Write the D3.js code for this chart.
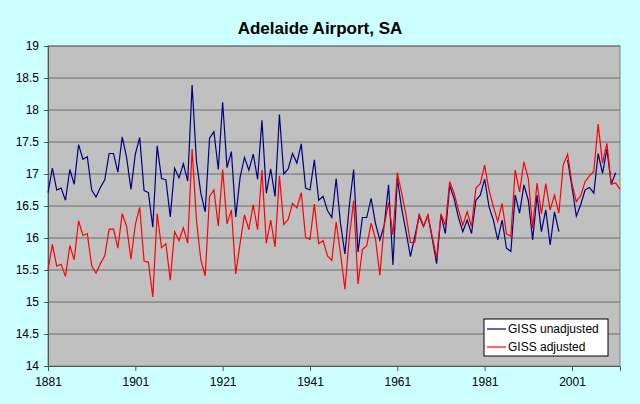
<!DOCTYPE html>
<html>
<head>
<meta charset="utf-8">
<script src="https://cdn.jsdelivr.net/npm/d3@7"></script>
<style>
body { margin:0; background:#CCFFFF; }
svg { display:block; font-family:Arial, "Liberation Sans", sans-serif; }
</style>
</head>
<body>
<div id="chart"></div>
<script>
var years = d3.range(1881, 2013)

var unadjusted = [
 16.71,17.09,16.75,16.78,16.59,17.07,16.84,17.46,17.23,17.27,
 16.75,16.64,16.79,16.91,17.32,17.32,17.03,17.58,17.26,16.76,
 17.31,17.57,16.74,16.71,16.17,17.44,16.93,16.91,16.33,17.09,
 16.94,17.16,16.89,18.39,17.20,16.70,16.41,17.56,17.66,17.07,
 18.12,17.10,17.35,16.33,16.95,17.26,17.06,17.31,16.92,17.84,
 16.70,17.08,16.65,17.93,17.00,17.08,17.32,17.17,17.47,16.78,
 16.75,17.22,16.59,16.65,16.43,16.32,16.93,16.22,15.75,16.50,
 17.07,15.78,16.32,16.32,16.62,16.23,15.97,16.20,16.83,15.58,
 16.93,16.46,16.10,15.71,16.02,16.34,16.18,16.35,15.99,15.60,
 16.36,16.07,16.82,16.62,16.32,16.10,16.28,16.07,16.59,16.67,
 16.92,16.49,16.28,15.97,16.28,15.84,15.79,16.67,16.39,16.83,
 16.59,15.97,16.67,16.10,16.44,15.89,16.41,16.10,null,17.22,
 16.80,16.34,16.52,16.75,16.79,16.70,17.32,17.01,17.39,16.84,
 17.02,null
]

var adjusted = [
 15.50,15.90,15.56,15.59,15.40,15.88,15.66,16.27,16.04,16.07,
 15.57,15.45,15.60,15.72,16.14,16.14,15.84,16.38,16.18,15.67,
 16.21,16.48,15.64,15.62,15.08,16.38,15.85,15.91,15.34,16.10,
 15.96,16.16,15.92,17.39,16.28,15.66,15.41,16.65,16.75,16.19,
 17.07,16.22,16.44,15.44,15.92,16.36,16.13,16.52,16.13,17.06,
 15.92,16.28,15.86,16.97,16.21,16.29,16.54,16.47,16.71,16.01,
 15.98,16.53,15.91,15.96,15.72,15.65,16.25,15.75,15.20,16.01,
 16.58,15.28,15.82,15.88,16.23,15.99,15.42,16.20,16.55,16.05,
 17.02,16.70,16.36,15.93,15.93,16.38,16.18,16.36,16.02,15.68,
 16.38,16.20,16.88,16.70,16.44,16.20,16.41,16.18,16.78,16.85,
 17.14,16.75,16.49,16.26,16.54,16.06,16.03,17.06,16.72,17.19,
 16.93,16.15,16.86,16.38,16.85,16.44,16.67,16.39,17.14,17.31,
 16.85,16.57,16.66,16.88,16.97,17.04,17.78,17.17,17.48,16.84,
 16.86,16.76
]

var xTicks = [1881, 1901, 1921, 1941, 1961, 1981, 2001]
var yTicks = [14, 14.5, 15, 15.5, 16, 16.5, 17, 17.5, 18, 18.5, 19]
var seriesNames = ["GISS unadjusted", "GISS adjusted"]
var seriesColors = ["#000080", "#FF0000"]

var svg = d3.select("#chart")
    .append("svg")
    .attr("width", 640)
    .attr("height", 404)

var x = d3.scaleLinear()
    .domain([years[0], years[years.length-1]])
    .range([48, 620])

var y = d3.scaleLinear()
    .domain([14, 19])
    .range([366, 46])

svg.append("rect")
    .attr("x", 48)
    .attr("y", 46)
    .attr("width", 572)
    .attr("height", 320)
    .attr("fill", "#C0C0C0")
    .attr("stroke", "#808080")

svg.append("g")
    .selectAll("line")
    .data(yTicks.slice(1))
    .enter()
    .append("line")
    .attr("x1", 48)
    .attr("x2", 620)
    .attr("y1", function(d) { return y(d) })
    .attr("y2", function(d) { return y(d) })
    .attr("stroke", "#6a6a6a")

var yAxis = svg.append("g")
    .attr("transform", "translate(48,0)")
    .call(d3.axisLeft(y).tickValues(yTicks).tickSize(4).tickPadding(5)
        .tickFormat(function(d) { return String(d) }))

var xAxis = svg.append("g")
    .attr("transform", "translate(0,366)")
    .call(d3.axisBottom(x).tickValues(xTicks).tickSize(5).tickPadding(6)
        .tickFormat(function(d) { return String(d) }))

svg.selectAll(".domain, .tick line").attr("stroke", "#555555")
svg.selectAll(".tick text")
    .attr("font-size", 12)
    .attr("font-family", "Arial, 'Liberation Sans', sans-serif")
    .attr("fill", "#000")

var line = function(vals)
{
    return d3.line()
        .defined(function(d) { return d != null })
        .x(function(d, i) { return x(years[i]) })
        .y(function(d) { return y(d) })(vals)
}

svg.selectAll("path.series")
    .data([unadjusted, adjusted])
    .enter()
    .append("path")
    .attr("class", "series")
    .attr("d", function(d) { return line(d) })
    .attr("fill", "none")
    .attr("stroke", function(d, i) { return seriesColors[i] })
    .attr("stroke-width", 1.2)

svg.append("text")
    .attr("x", 320)
    .attr("y", 34)
    .attr("text-anchor", "middle")
    .attr("font-size", 17)
    .attr("font-weight", "bold")
    .text("Adelaide Airport, SA")

var legend = svg.append("g")
    .attr("transform", "translate(484,319)")

legend.append("rect")
    .attr("width", 124)
    .attr("height", 37)
    .attr("fill", "#FFFFFF")
    .attr("stroke", "#000000")

var item = legend.selectAll("g")
    .data(seriesNames)
    .enter()
    .append("g")
    .attr("transform", function(d, i) { return "translate(0," + (10 + i*18) + ")" })

item.append("line")
    .attr("x1", 3)
    .attr("x2", 22)
    .attr("stroke", function(d, i) { return seriesColors[i] })
    .attr("stroke-width", 1.2)

item.append("text")
    .attr("x", 24)
    .attr("y", 4)
    .attr("font-size", 12)
    .text(function(d) { return d })
</script>
</body>
</html>
